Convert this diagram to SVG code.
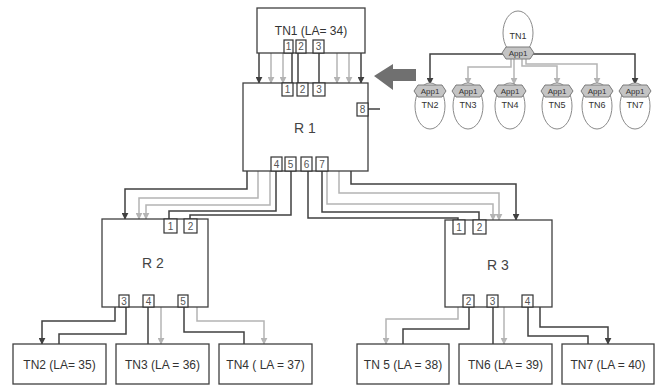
<svg xmlns="http://www.w3.org/2000/svg" width="661" height="388" viewBox="0 0 661 388">
<defs>
<style>
.box{fill:#fff;stroke:#404040;stroke-width:1.3}
.port{fill:#fff;stroke:#333;stroke-width:1.2}
.pt{font-family:"Liberation Sans",Arial,sans-serif;font-size:10px;fill:#555;text-anchor:middle}
.lbl{font-family:"Liberation Sans",Arial,sans-serif;font-size:12px;fill:#333;text-anchor:middle}
.big{font-family:"Liberation Sans",Arial,sans-serif;font-size:14px;fill:#444;text-anchor:middle}
.sm{font-family:"Liberation Sans",Arial,sans-serif;font-size:9px;fill:#333;text-anchor:middle}
.xs{font-family:"Liberation Sans",Arial,sans-serif;font-size:8px;fill:#333;text-anchor:middle}
.d{fill:none;stroke:#404040;stroke-width:1.5}
.l{fill:none;stroke:#b4b4b4;stroke-width:1.5}
.ell{fill:#fff;stroke:#8a8a8a;stroke-width:1}
.app{fill:#c4c4c4;stroke:#7a7a7a;stroke-width:1}
</style>
<marker id="ad" viewBox="0 0 10 10" refX="9" refY="5" markerWidth="7" markerHeight="7" markerUnits="userSpaceOnUse" orient="auto"><path d="M0,0L10,5L0,10z" fill="#404040"/></marker>
<marker id="al" viewBox="0 0 10 10" refX="9" refY="5" markerWidth="7" markerHeight="7" markerUnits="userSpaceOnUse" orient="auto"><path d="M0,0L10,5L0,10z" fill="#b4b4b4"/></marker>
</defs>

<g id="connectors">
<path class="d" d="M259,53V83" marker-end="url(#ad)"/>
<path class="l" d="M271,53V83" marker-end="url(#al)"/>
<path class="l" d="M283,53V83" marker-end="url(#al)"/>
<path class="l" d="M337,53V83" marker-end="url(#al)"/>
<path class="l" d="M349,53V83" marker-end="url(#al)"/>
<path class="d" d="M361,53V83" marker-end="url(#ad)"/>
<path class="d" d="M292,53V83"/>
<path class="d" d="M298,53V83"/>
<path class="d" d="M319,53V83"/>
<path class="d" d="M368,109H380"/>
<path class="d" d="M247,171V189H125V219" marker-end="url(#ad)"/>
<path class="l" d="M258,171V198H139V219" marker-end="url(#al)"/>
<path class="l" d="M270,171V205H146V219" marker-end="url(#al)"/>
<path class="d" d="M276,171V211H169V219"/>
<path class="d" d="M291,171V215H190V219"/>
<path class="d" d="M351,171V184H516V220" marker-end="url(#ad)"/>
<path class="l" d="M339,171V193H499V220" marker-end="url(#al)"/>
<path class="l" d="M327,171V204H493V220" marker-end="url(#al)"/>
<path class="d" d="M322,171V212H479V220"/>
<path class="d" d="M308,171V218H458V220"/>
<path class="d" d="M115,307V321H42V344" marker-end="url(#ad)"/>
<path class="d" d="M126,307V334H59V344"/>
<path class="d" d="M148,307V344"/>
<path class="l" d="M161,307V344" marker-end="url(#al)"/>
<path class="d" d="M184,307V332H244V344"/>
<path class="l" d="M197,307V321H264V344" marker-end="url(#al)"/>
<path class="l" d="M458,307V319H386V344" marker-end="url(#al)"/>
<path class="d" d="M469,307V329H403V344"/>
<path class="d" d="M493,307V344"/>
<path class="l" d="M504,307V344" marker-end="url(#al)"/>
<path class="d" d="M528,307V336H588V344"/>
<path class="d" d="M540,307V327H608V344" marker-end="url(#ad)"/>
<path class="d" d="M504,54H430V84" marker-end="url(#ad)"/>
<path class="d" d="M532,54H635V84" marker-end="url(#ad)"/>
<path class="l" d="M511,59V67H468V84" marker-end="url(#al)"/>
<path class="l" d="M514,59V84" marker-end="url(#al)"/>
<path class="l" d="M522,59V66H557V84" marker-end="url(#al)"/>
<path class="l" d="M526,59V64H597V84" marker-end="url(#al)"/>
</g>

<g id="bigarrow"><polygon points="374,76 393,64 393,69 416,69 416,81 393,81 393,90" fill="#707070"/></g>

<g id="TN1">
<rect class="box" x="257" y="8" width="108" height="45"/>
<text class="lbl" x="311" y="35">TN1 (LA= 34)</text>
<rect class="port" x="284" y="40" width="9" height="13"/><text class="pt" x="288.5" y="50">1</text>
<rect class="port" x="296" y="40" width="10" height="13"/><text class="pt" x="301" y="50">2</text>
<rect class="port" x="313" y="40" width="11" height="13"/><text class="pt" x="318.5" y="50">3</text>
</g>

<g id="R1">
<rect class="box" x="243" y="83" width="125" height="88"/>
<text class="big" x="305" y="133">R 1</text>
<rect class="port" x="282" y="83" width="11" height="13"/><text class="pt" x="287.5" y="93">1</text>
<rect class="port" x="297" y="83" width="11" height="13"/><text class="pt" x="302.5" y="93">2</text>
<rect class="port" x="313" y="83" width="12" height="13"/><text class="pt" x="319" y="93">3</text>
<rect class="port" x="357" y="103" width="11" height="13"/><text class="pt" x="362.5" y="113">8</text>
<rect class="port" x="271" y="157" width="11" height="14"/><text class="pt" x="276.5" y="168">4</text>
<rect class="port" x="285" y="157" width="11" height="14"/><text class="pt" x="290.5" y="168">5</text>
<rect class="port" x="301" y="157" width="11" height="14"/><text class="pt" x="306.5" y="168">6</text>
<rect class="port" x="316" y="157" width="12" height="14"/><text class="pt" x="322" y="168">7</text>
</g>

<g id="R2">
<rect class="box" x="102" y="219" width="106" height="88"/>
<text class="big" x="153" y="268">R 2</text>
<rect class="port" x="164" y="219" width="13" height="14"/><text class="pt" x="170.5" y="230">1</text>
<rect class="port" x="184" y="219" width="13" height="14"/><text class="pt" x="190.5" y="230">2</text>
<rect class="port" x="119" y="295" width="10" height="12"/><text class="pt" x="124" y="305">3</text>
<rect class="port" x="143" y="295" width="11" height="12"/><text class="pt" x="148.5" y="305">4</text>
<rect class="port" x="178" y="295" width="10" height="12"/><text class="pt" x="183" y="305">5</text>
</g>

<g id="R3">
<rect class="box" x="445" y="220" width="107" height="87"/>
<text class="big" x="498" y="270">R 3</text>
<rect class="port" x="453" y="220" width="12" height="14"/><text class="pt" x="459" y="231">1</text>
<rect class="port" x="473" y="220" width="13" height="14"/><text class="pt" x="479.5" y="231">2</text>
<rect class="port" x="463" y="295" width="11" height="12"/><text class="pt" x="468.5" y="305">2</text>
<rect class="port" x="487" y="295" width="11" height="12"/><text class="pt" x="492.5" y="305">3</text>
<rect class="port" x="522" y="295" width="11" height="12"/><text class="pt" x="527.5" y="305">4</text>
</g>

<g id="TN2"><rect class="box" x="13" y="344" width="93" height="40"/><text class="lbl" x="59.5" y="369">TN2 (LA= 35)</text></g>
<g id="TN3"><rect class="box" x="116" y="344" width="93" height="40"/><text class="lbl" x="162.5" y="369">TN3 (LA = 36)</text></g>
<g id="TN4"><rect class="box" x="219" y="344" width="93" height="40"/><text class="lbl" x="265.5" y="369">TN4 ( LA = 37)</text></g>
<g id="TN5"><rect class="box" x="357" y="344" width="92" height="40"/><text class="lbl" x="403" y="369">TN 5 (LA =  38)</text></g>
<g id="TN6"><rect class="box" x="459" y="344" width="93" height="40"/><text class="lbl" x="505.5" y="369">TN6 (LA = 39)</text></g>
<g id="TN7"><rect class="box" x="562" y="344" width="92" height="40"/><text class="lbl" x="608" y="369">TN7 (LA = 40)</text></g>

<g id="mini-TN1">
<ellipse class="ell" cx="518" cy="33" rx="15" ry="22"/>
<text class="sm" x="518" y="39">TN1</text>
<polygon class="app" points="506,47 530,47 534,53 530,59 506,59 502,53"/>
<text class="xs" x="518" y="56">App1</text>
</g>
<g id="mini-TN2"><ellipse class="ell" cx="430" cy="106" rx="15" ry="23"/><polygon class="app" points="418,85 442,85 446,91 442,97 418,97 414,91"/><text class="xs" x="430" y="94">App1</text><text class="sm" x="430" y="108">TN2</text></g>
<g id="mini-TN3"><ellipse class="ell" cx="468" cy="106" rx="15" ry="23"/><polygon class="app" points="456,85 480,85 484,91 480,97 456,97 452,91"/><text class="xs" x="468" y="94">App1</text><text class="sm" x="468" y="108">TN3</text></g>
<g id="mini-TN4"><ellipse class="ell" cx="510" cy="106" rx="15" ry="23"/><polygon class="app" points="498,85 522,85 526,91 522,97 498,97 494,91"/><text class="xs" x="510" y="94">App1</text><text class="sm" x="510" y="108">TN4</text></g>
<g id="mini-TN5"><ellipse class="ell" cx="557" cy="106" rx="15" ry="23"/><polygon class="app" points="545,85 569,85 573,91 569,97 545,97 541,91"/><text class="xs" x="557" y="94">App1</text><text class="sm" x="557" y="108">TN5</text></g>
<g id="mini-TN6"><ellipse class="ell" cx="597" cy="106" rx="15" ry="23"/><polygon class="app" points="585,85 609,85 613,91 609,97 585,97 581,91"/><text class="xs" x="597" y="94">App1</text><text class="sm" x="597" y="108">TN6</text></g>
<g id="mini-TN7"><ellipse class="ell" cx="635" cy="106" rx="15" ry="23"/><polygon class="app" points="623,85 647,85 651,91 647,97 623,97 619,91"/><text class="xs" x="635" y="94">App1</text><text class="sm" x="635" y="108">TN7</text></g>
</svg>
